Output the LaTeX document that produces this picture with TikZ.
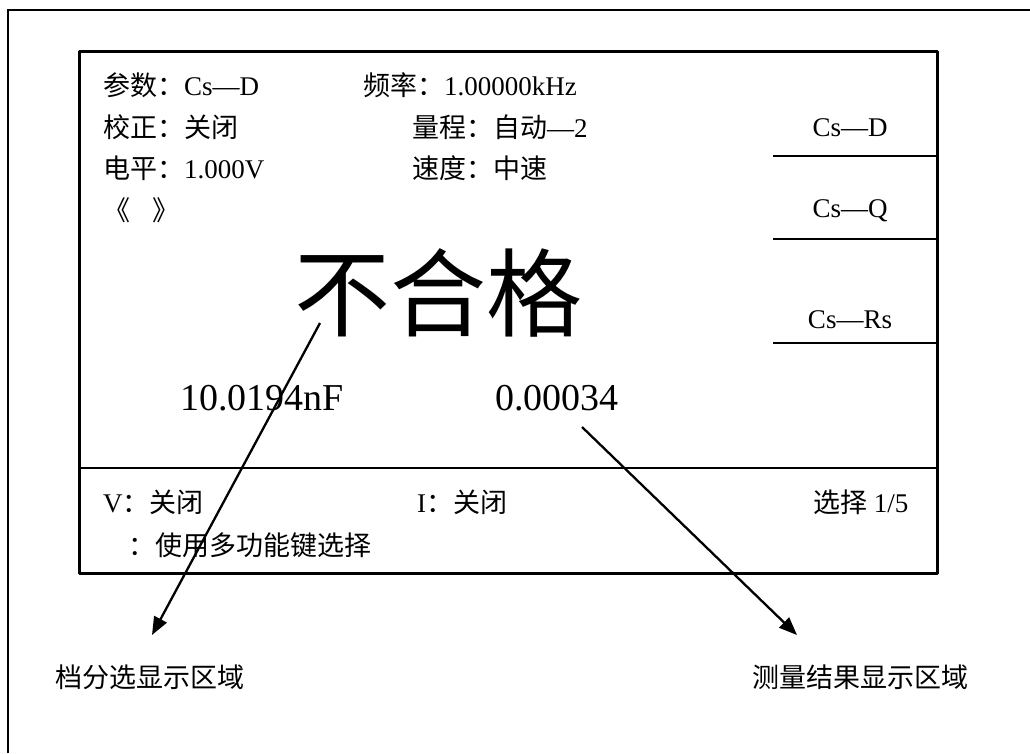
\documentclass[tikz,border=0pt]{standalone}
\usepackage{fontspec}
\setmainfont{Liberation Serif}
\newfontfamily\cjk{Noto Sans CJK SC}
\usetikzlibrary{arrows.meta,positioning}

\tikzset{
  txt/.style={anchor=west,inner sep=0pt,font=\fontsize{27}{32}\selectfont},
  key/.style={inner sep=0pt,font=\fontsize{27}{32}\selectfont},
  num/.style={anchor=west,inner sep=0pt,font=\fontsize{38}{44}\selectfont},
  pointer/.style={line width=2.3pt,-{Triangle[length=18pt,width=14pt]}}
}

\begin{document}
\begin{tikzpicture}[x=1pt,y=-1pt]
\useasboundingbox (0,0) rectangle (1030,753);

% frame
\draw[line width=1.2pt] (8,753) -- (8,10) -- (1030,10);

% screen
\draw[line width=3pt,line join=round] (79,51) rectangle (937,573);
\draw[line width=1.2pt] (79,468) -- (937,468);
\foreach \y in {156,239,343}{
	\draw[line width=1.2pt] (773,\y) -- (937,\y);
}

% header
\node[txt] (par) at (103,85) {{\cjk 参数：}Cs—D};
\node[txt] (freq) at (363,85) {{\cjk 频率：}1.00000kHz};
\node[txt] (corr) at (103,127) {\cjk 校正：关闭};
\node[txt] (range) at (412,127) {{\cjk 量程：自动}—2};
\node[txt] (lev) at (103,168) {{\cjk 电平：}1.000V};
\node[txt] (speed) at (412,168) {\cjk 速度：中速};
\node[txt] (brk) at (103,210) {\cjk 《\hspace{22pt}》};

% soft keys
\node[key] (kd) at (850,128) {Cs—D};
\node[key] (kq) at (850,211) {Cs—Q};
\node[key] (kr) at (850,320) {Cs—Rs};

% result
\node[inner sep=0pt,font=\fontsize{96}{110}\selectfont\cjk] (bin) at (438,293) {不合格};
\node[num] (main) at (180,398) {10.0194nF};
\node[num] (sec) at (495,398) {0.00034};

% status
\node[txt] (vmon) at (103,502) {V{\cjk ：关闭}};
\node[txt] (imon) at (417,502) {I{\cjk ：关闭}};
\node[txt] (page) at (813,502) {{\cjk 选择} 1/5};
\node[txt] (hint) at (128,545) {\cjk ：使用多功能键选择};

% labels
\node[txt] (binlbl) at (55,677) {\cjk 档分选显示区域};
\node[txt] (reslbl) at (752,677) {\cjk 测量结果显示区域};

% pointers
\coordinate (binfrom) at (320,323);
\coordinate (binto) at (152,635);
\coordinate (resfrom) at (582,427);
\coordinate (resto) at (797,635);
\draw[pointer] (binfrom) -- (binto);
\draw[pointer] (resfrom) -- (resto);

\end{tikzpicture}
\end{document}
